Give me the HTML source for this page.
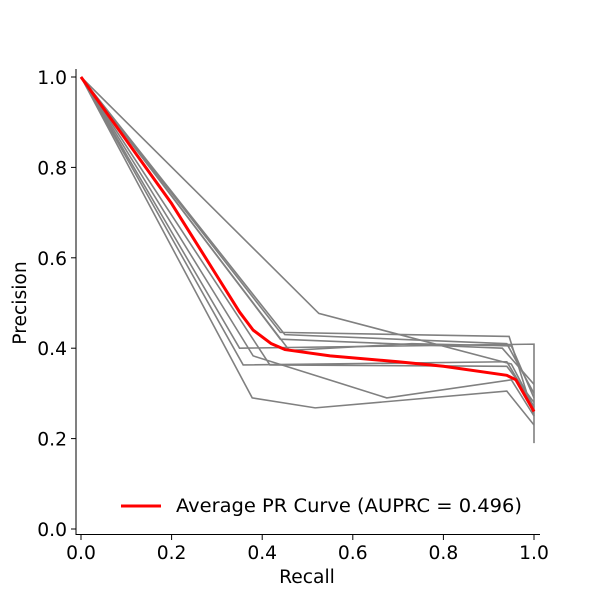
<!DOCTYPE html>
<html><head><meta charset="utf-8"><style>
body{margin:0;background:#fff}
svg text{font-family:"DejaVu Sans","Liberation Sans",sans-serif;fill:#000}
</style></head><body>
<svg id="chart" width="600" height="600">
<g id="plot"></g>
</svg>
<script>
const xTicks=[0,0.2,0.4,0.6,0.8,1.0];
const yTicks=[0,0.2,0.4,0.6,0.8,1.0];
const tickLabels=["0.0","0.2","0.4","0.6","0.8","1.0"];
const curveRecall=[
[0,0.525,0.95,1],
[0,0.44,0.945,1],
[0,0.45,0.94,1],
[0,0.35,1,1],
[0,0.358,0.94,1],
[0,0.378,0.517,0.94,1],
[0,0.38,0.675,0.95,1],
[0,0.417,0.94,1],
[0,0.44,0.93,1],
[0,0.46,0.73,0.95,1]];
const curvePrecision=[
[1,0.477,0.365,0.27],
[1,0.435,0.426,0.25],
[1,0.43,0.41,0.3],
[1,0.40,0.409,0.19],
[1,0.363,0.37,0.27],
[1,0.29,0.268,0.305,0.23],
[1,0.383,0.29,0.33,0.25],
[1,0.363,0.36,0.28],
[1,0.42,0.40,0.32],
[1,0.395,0.41,0.405,0.29]];
const avgRecall=[0,0.1,0.2,0.3,0.35,0.38,0.42,0.45,0.55,0.7,0.8,0.94,0.96,1];
const avgPrecision=[1,0.86,0.72,0.56,0.48,0.44,0.41,0.397,0.383,0.37,0.36,0.34,0.33,0.26];
const X=v=>81+v*453, Y=v=>529-v*452;
const NS="http://www.w3.org/2000/svg";
const g=document.getElementById('plot');
function mk(t,a,txt){const e=document.createElementNS(NS,t);for(const k in a)e.setAttribute(k,a[k]);if(txt!==undefined)e.textContent=txt;g.appendChild(e);return e;}
curveRecall.forEach((r,i)=>{
 const p=r.map((v,j)=>X(v)+','+Y(curvePrecision[i][j])).join(' ');
 const e=mk('polyline',{points:p,fill:'none',stroke:'#808080','stroke-width':1.6});
 
 
});
const av=mk('polyline',{points:avgRecall.map((v,j)=>X(v)+','+Y(avgPrecision[j])).join(' '),fill:'none',stroke:'#ff0000','stroke-width':3,'stroke-linejoin':'round'});


const ls=mk('line',{x1:76,y1:69,x2:76,y2:535,stroke:'#000','stroke-width':1});


const bs=mk('line',{x1:76,y1:534.5,x2:540,y2:534.5,stroke:'#000','stroke-width':1});


xTicks.forEach((v,i)=>{
 const t=mk('line',{x1:X(v),y1:535,x2:X(v),y2:540,stroke:'#000'});
 
 
 const l=mk('text',{x:X(v),y:559,'text-anchor':'middle','font-size':18.7},tickLabels[i]);
 
 
});
yTicks.forEach((v,i)=>{
 const t=mk('line',{x1:71,y1:Y(v),x2:76,y2:Y(v),stroke:'#000'});
 
 
 const l=mk('text',{x:67,y:Y(v)+7,'text-anchor':'end','font-size':18.7},tickLabels[i]);
 
 
});
const xt=mk('text',{x:307,y:583,'text-anchor':'middle','font-size':18.7},'Recall');


const yt=mk('text',{x:26,y:303,'text-anchor':'middle','font-size':18.7,transform:'rotate(-90 26 303)'},'Precision');


const lg=mk('line',{x1:121,y1:506,x2:161,y2:506,stroke:'#ff0000','stroke-width':3});


const lt=mk('text',{x:176,y:512,'font-size':18.7,textLength:346,lengthAdjust:'spacingAndGlyphs'},'Average PR Curve (AUPRC = 0.496)');


</script>
</body></html>
